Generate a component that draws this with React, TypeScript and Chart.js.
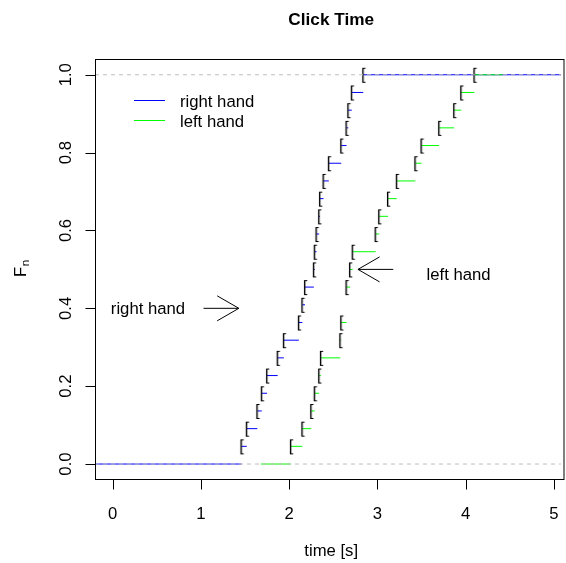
import { useEffect, useRef } from "react";
import { Chart, registerables } from "chart.js";

Chart.register(...registerables);

// ---- data ----
const rightHandTimes = [
  1.46, 1.52, 1.64, 1.69, 1.75, 1.87, 1.94, 2.11, 2.15, 2.18, 2.28,
  2.29, 2.31, 2.34, 2.35, 2.39, 2.45, 2.59, 2.65, 2.67, 2.71, 2.84,
];
const leftHandTimes = [
  2.02, 2.15, 2.25, 2.29, 2.34, 2.36, 2.58, 2.59, 2.65, 2.65, 2.69,
  2.72, 2.98, 3.02, 3.12, 3.22, 3.43, 3.5, 3.7, 3.87, 3.95, 4.1,
];
const leftHandRange = [1.68, 4.42];
const xTicks = [0, 1, 2, 3, 4, 5];
const yTicks = [0, 0.2, 0.4, 0.6, 0.8, 1.0];
const xRange = [-0.2, 5.081];
const yRange = [-0.04, 1.04];
const refLines = [0, 1];
const seriesNames = ["right hand", "left hand"];
const seriesColors = ["#0000FF", "#00FF00"];
const annotationTexts = [
  { label: "right hand", x: 0.4, y: 0.4 },
  { label: "left hand", x: 3.92, y: 0.487 },
];
const annotationArrows = [
  { x0: 1.03, y0: 0.4, x1: 1.43, y1: 0.4 },
  { x0: 3.18, y0: 0.5, x1: 2.78, y1: 0.5 },
];

const FONT = '"Liberation Sans", Arial, Helvetica, sans-serif';
const BASE = 16.7;

type Pt = { x: number; y: number | null };

function ecdf(times: number[]) {
  const sorted = [...times].sort((a, b) => a - b);
  const n = sorted.length;
  const knots: number[] = [];
  const fvals: number[] = [];
  sorted.forEach((t, i) => {
    if (knots.length && knots[knots.length - 1] === t) {
      fvals[fvals.length - 1] = (i + 1) / n;
    } else {
      knots.push(t);
      fvals.push((i + 1) / n);
    }
  });
  return { knots, fvals };
}

function segments(times: number[], lo: number, hi: number): Pt[] {
  const { knots, fvals } = ecdf(times);
  const out: Pt[] = [
    { x: lo, y: 0 },
    { x: knots[0], y: 0 },
    { x: knots[0], y: null },
  ];
  knots.forEach((k, i) => {
    const next = i + 1 < knots.length ? knots[i + 1] : hi;
    out.push({ x: k, y: fvals[i] }, { x: next, y: fvals[i] }, { x: next, y: null });
  });
  return out;
}

function jumpPoints(times: number[]): Pt[] {
  const { knots, fvals } = ecdf(times);
  return knots.map((k, i) => ({ x: k, y: fvals[i] }));
}

function bracketMarker(): HTMLCanvasElement {
  const c = document.createElement("canvas");
  c.width = 12;
  c.height = 22;
  const g = c.getContext("2d")!;
  g.font = `${BASE}px ${FONT}`;
  g.fillStyle = "#000";
  g.textAlign = "center";
  const m = g.measureText("[");
  const asc = m.actualBoundingBoxAscent || 12;
  const desc = m.actualBoundingBoxDescent || 3;
  g.fillText("[", c.width / 2, c.height / 2 + (asc - desc) / 2);
  return c;
}

const decorPlugin = {
  id: "rDecor",
  afterDraw(chart: any) {
    const { ctx, chartArea: a } = chart;
    const xs = chart.scales.x;
    const ys = chart.scales.y;
    const px = (v: number) => xs.getPixelForValue(v);
    const py = (v: number) => ys.getPixelForValue(v);
    const h = (v: number) => Math.round(v) + 0.5;
    ctx.save();
    ctx.strokeStyle = "#000";
    ctx.fillStyle = "#000";
    ctx.lineWidth = 1;
    ctx.setLineDash([]);

    // box
    const L = h(a.left);
    const T = h(a.top);
    const B = h(a.bottom - 1);
    const R = a.right + 3;
    ctx.strokeRect(L, T, R - L, B - T);

    // x axis
    ctx.beginPath();
    ctx.moveTo(h(px(xTicks[0])), B);
    ctx.lineTo(h(px(xTicks[xTicks.length - 1])), B);
    xTicks.forEach((t) => {
      ctx.moveTo(h(px(t)), B);
      ctx.lineTo(h(px(t)), B + 10);
    });
    // y axis
    ctx.moveTo(L, h(py(yTicks[0])));
    ctx.lineTo(L, h(py(yTicks[yTicks.length - 1])));
    yTicks.forEach((t) => {
      ctx.moveTo(L, h(py(t)));
      ctx.lineTo(L - 10, h(py(t)));
    });
    ctx.stroke();

    ctx.font = `${BASE}px ${FONT}`;
    ctx.textAlign = "center";
    ctx.textBaseline = "alphabetic";
    xTicks.forEach((t) => ctx.fillText(String(t), px(t), 519));
    yTicks.forEach((t) => {
      ctx.save();
      ctx.translate(71, py(t));
      ctx.rotate(-Math.PI / 2);
      ctx.fillText(t.toFixed(1), 0, 0);
      ctx.restore();
    });

    // axis titles
    const cx = (a.left + 567.4) / 2;
    ctx.fillText("time [s]", cx, 556);
    ctx.save();
    ctx.translate(26, 277);
    ctx.rotate(-Math.PI / 2);
    ctx.textAlign = "left";
    ctx.font = `${BASE}px ${FONT}`;
    ctx.fillText("F", 0, 0);
    const fw = ctx.measureText("F").width;
    ctx.font = `${BASE * 0.7}px ${FONT}`;
    ctx.fillText("n", fw + 0.5, 3);
    ctx.restore();

    // title
    ctx.font = `bold 17.2px ${FONT}`;
    ctx.textAlign = "center";
    ctx.fillText("Click Time", cx, 25);

    // legend
    ctx.font = `${BASE}px ${FONT}`;
    ctx.textAlign = "left";
    seriesNames.forEach((name, i) => {
      const yy = 100.5 + i * 20;
      ctx.strokeStyle = seriesColors[i];
      ctx.beginPath();
      ctx.moveTo(134, yy);
      ctx.lineTo(165, yy);
      ctx.stroke();
      ctx.fillStyle = "#000";
      ctx.fillText(name, 180, yy + 6);
    });

    // annotation texts
    ctx.textAlign = "center";
    annotationTexts.forEach((t) => ctx.fillText(t.label, px(t.x), py(t.y) + 6));

    // arrows
    ctx.strokeStyle = "#000";
    annotationArrows.forEach((ar) => {
      const x0 = px(ar.x0), y0 = py(ar.y0), x1 = px(ar.x1), y1 = py(ar.y1);
      const ang = Math.atan2(y1 - y0, x1 - x0);
      const len = 25;
      const spread = Math.PI / 6;
      ctx.beginPath();
      ctx.moveTo(x0, y0);
      ctx.lineTo(x1, y1);
      ctx.moveTo(x1 - len * Math.cos(ang - spread), y1 - len * Math.sin(ang - spread));
      ctx.lineTo(x1, y1);
      ctx.lineTo(x1 - len * Math.cos(ang + spread), y1 - len * Math.sin(ang + spread));
      ctx.stroke();
    });
    ctx.restore();
  },
};

export default function App() {
  const ref = useRef<HTMLCanvasElement | null>(null);
  useEffect(() => {
    document.body.style.margin = "0";
    const marker = bracketMarker();
    const chart = new Chart(ref.current!, {
      type: "scatter",
      data: {
        datasets: [
          {
            label: "ref",
            data: refLines.flatMap((v) => [
              { x: xRange[0], y: v },
              { x: xRange[1], y: v },
              { x: xRange[1], y: null },
            ]) as any,
            showLine: true,
            borderColor: "#BEBEBE",
            borderWidth: 1,
            borderDash: [4, 4],
            pointRadius: 0,
            spanGaps: false,
            order: 0,
          },
          {
            label: "marks",
            data: [...jumpPoints(rightHandTimes), ...jumpPoints(leftHandTimes)] as any,
            showLine: false,
            pointStyle: marker as any,
            pointRadius: 4,
            order: 1,
          },
          {
            label: seriesNames[1],
            data: segments(leftHandTimes, leftHandRange[0], leftHandRange[1]) as any,
            showLine: true,
            borderColor: seriesColors[1],
            borderWidth: 1,
            pointRadius: 0,
            spanGaps: false,
            order: 2,
          },
          {
            label: seriesNames[0],
            data: segments(rightHandTimes, xRange[0], xRange[1]) as any,
            showLine: true,
            borderColor: seriesColors[0],
            borderWidth: 1,
            pointRadius: 0,
            spanGaps: false,
            order: 3,
          },
        ],
      },
      options: {
        animation: false,
        responsive: false,
        layout: { padding: { left: 95, top: 59.2, right: 0, bottom: 83.4 } },
        plugins: { legend: { display: false }, title: { display: false }, tooltip: { enabled: false } },
        events: [],
        scales: {
          x: { type: "linear", min: xRange[0], max: xRange[1], display: false },
          y: { type: "linear", min: yRange[0], max: yRange[1], display: false },
        },
      },
      plugins: [decorPlugin],
    });
    return () => chart.destroy();
  }, []);
  return (
    <canvas
      ref={ref}
      width={566}
      height={563}
      style={{ display: "block", position: "absolute", left: 0, top: 0, width: 566, height: 563 }}
    />
  );
}
